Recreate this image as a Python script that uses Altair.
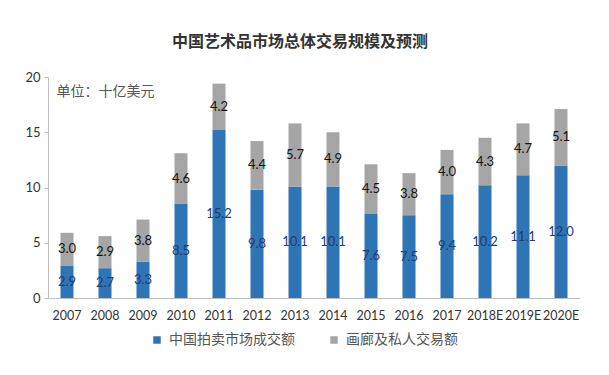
import altair as alt
import pandas as pd

years = ["2007", "2008", "2009", "2010", "2011", "2012", "2013", "2014",
         "2015", "2016", "2017", "2018E", "2019E", "2020E"]
auction = [2.9, 2.7, 3.3, 8.5, 15.2, 9.8, 10.1, 10.1, 7.6, 7.5, 9.4, 10.2, 11.1, 12.0]
private = [3.0, 2.9, 3.8, 4.6, 4.2, 4.4, 5.7, 4.9, 4.5, 3.8, 4.0, 4.3, 4.7, 5.1]
series = ["中国拍卖市场成交额", "画廊及私人交易额"]
y_ticks = [0, 2.5, 5, 7.5, 10, 12.5, 15, 17.5, 20]

rows = []
for i, y in enumerate(years):
    rows.append({"year": y, "series": series[0], "value": auction[i], "ord": 0})
    rows.append({"year": y, "series": series[1], "value": private[i], "ord": 1})
df = pd.DataFrame(rows)

base = alt.Chart(df).transform_stack(
    stack="value", groupby=["year"], as_=["v0", "v1"],
    sort=[alt.SortField("ord", order="ascending")]
).transform_calculate(mid="(datum.v0 + datum.v1) / 2")

xenc = alt.X("year:N", sort=years, title=None,
             scale=alt.Scale(paddingInner=0, paddingOuter=0),
             axis=alt.Axis(labelAngle=0, ticks=False, domainColor="#bfbfbf",
                           labelFont="Lato", labelFontSize=12.5, labelColor="#333333",
                           labelPadding=11, labelOverlap=False))

bars = base.mark_bar(size=13).encode(
    x=xenc,
    y=alt.Y("v0:Q", scale=alt.Scale(domain=[0, 20], nice=False),
            title="单位：十亿美元",
            axis=alt.Axis(values=y_ticks, grid=False, tickSize=4, tickColor="#bfbfbf",
                          domainColor="#bfbfbf",
                          labelExpr="datum.value % 5 == 0 ? datum.label : ''",
                          labelFont="Lato", labelFontSize=13, labelColor="#333333",
                          labelPadding=4,
                          titleAngle=0, titleX=8, titleY=14, titleAlign="left",
                          titleBaseline="middle", titleFont="Noto Sans CJK SC",
                          titleFontSize=14, titleFontWeight="normal",
                          titleColor="#555555")),
    y2="v1:Q",
    color=alt.Color("series:N", scale=alt.Scale(domain=series, range=["#2e75b6", "#a5a5a5"]),
                    legend=alt.Legend(title=None, orient="none", legendX=102, legendY=256,
                                      direction="horizontal", columns=2, columnPadding=32,
                                      symbolType="square", symbolSize=56, symbolStrokeWidth=0,
                                      labelFont="Noto Sans CJK SC", labelFontSize=14,
                                      labelColor="#555555", labelOffset=5)),
)

labels = base.mark_text(font="Lato", fontSize=13, baseline="middle").encode(
    x=alt.X("year:N", sort=years),
    y=alt.Y("mid:Q"),
    text=alt.Text("value:Q", format=".1f"),
    color=alt.Color("series:N", scale=alt.Scale(domain=series, range=["#1f3b6e", "#111111"]),
                    legend=None),
)

chart = alt.layer(bars, labels).resolve_scale(color="independent").properties(
    width=532, height=221,
    autosize=alt.AutoSizeParams(type="none"),
    padding={"left": 40, "top": 69, "right": 13, "bottom": 70},
    background="white",
    title=alt.TitleParams("中国艺术品市场总体交易规模及预测", anchor="middle", offset=21,
                          font="Noto Sans CJK SC", fontSize=16, fontWeight="bold",
                          color="#333333", dx=-14),
).configure_view(stroke=None)

chart.save("out.html", embed_options={"renderer": "svg", "actions": False})
